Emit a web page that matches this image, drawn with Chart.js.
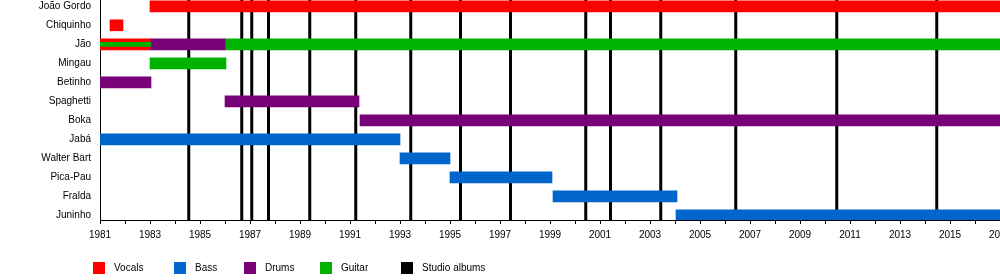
<!DOCTYPE html>
<html>
<head>
<meta charset="utf-8">
<script src="https://cdn.jsdelivr.net/npm/chart.js@4"></script>
<style>
  html, body { margin: 0; padding: 0; background: #fff; }
  #wrap { width: 1000px; height: 280px; }
</style>
</head>
<body>
<div id="wrap"><canvas id="timeline" width="1000" height="280"></canvas></div>
<script>
// Band members, top to bottom
const members = ['João Gordo', 'Chiquinho', 'Jão', 'Mingau', 'Betinho', 'Spaghetti',
                 'Boka', 'Jabá', 'Walter Bart', 'Pica-Pau', 'Fralda', 'Juninho'];

// [member, from, to] in years
const vocals = [
    ['João Gordo', 1983, 2017],
    ['Chiquinho', 1981.4, 1981.92],
    ['Jão', 1981, 1983]
];
const bass = [
    ['Jabá', 1981, 1993],
    ['Walter Bart', 1993, 1995],
    ['Pica-Pau', 1995, 1999.08],
    ['Fralda', 1999.12, 2004.08],
    ['Juninho', 2004.04, 2017]
];
const drums = [
    ['Jão', 1983, 1986],
    ['Betinho', 1981, 1983.04],
    ['Spaghetti', 1986, 1991.36],
    ['Boka', 1991.4, 2017]
];
const guitar = [
    ['Jão', 1986, 2017],
    ['Mingau', 1983, 1986.04]
];
// second role shown as a thin stripe inside the main bar
const guitarStripe = [
    ['Jão', 1981, 1983.04]
];

// Studio album releases
const albumYears = [1984.55, 1986.67, 1987.07, 1987.74, 1989.39, 1991.23, 1993.43, 1995.42,
                    1997.42, 2000.43, 2001.42, 2003.43, 2006.43, 2010.47, 2014.47];

const yearMin = 1981;
const yearMax = 2017;

const colors = {
    vocals: '#ff0000',
    bass: '#0066cc',
    drums: '#780078',
    guitar: '#00b300',
    albums: '#000000'
};

// y limits so rows land where the original puts them
const rowMin = -0.332;
const rowMax = 11.247;

function toBars(spans) {
    return spans.map(([name, from, to]) => ({ y: members.indexOf(name), x: [from, to] }));
}

// vertical lines, broken with null points
const albumPoints = [];
albumYears.forEach(yr => {
    albumPoints.push({ x: yr, y: rowMin }, { x: yr, y: rowMax }, { x: yr, y: null });
});

const font = { family: '"Liberation Sans", Arial, sans-serif', size: 10 };
Chart.defaults.font.family = font.family;
Chart.defaults.font.size = font.size;
Chart.defaults.color = '#000';

const legendItems = [
    ['Vocals', colors.vocals],
    ['Bass', colors.bass],
    ['Drums', colors.drums],
    ['Guitar', colors.guitar],
    ['Studio albums', colors.albums]
];
const legendLeft = [93, 174, 244, 320, 401];

const bottomLegend = {
    id: 'bottomLegend',
    afterDraw(chart) {
        const ctx = chart.ctx;
        ctx.save();
        ctx.font = font.size + 'px ' + font.family;
        ctx.textBaseline = 'middle';
        ctx.textAlign = 'left';
        legendItems.forEach(([text, color], i) => {
            const x = legendLeft[i];
            ctx.fillStyle = color;
            ctx.fillRect(x, 262, 12, 12);
            ctx.fillStyle = '#000';
            ctx.fillText(text, x + 21, 268.5);
        });
        ctx.restore();
    }
};

function barSet(label, spans, color, thickness, order) {
    return {
        type: 'bar',
        label: label,
        data: toBars(spans),
        backgroundColor: color,
        borderWidth: 0,
        barThickness: thickness,
        grouped: false,
        order: order
    };
}

new Chart(document.getElementById('timeline'), {
    type: 'bar',
    data: {
        datasets: [
            barSet('Guitar', guitarStripe, colors.guitar, 4, 0),
            barSet('Vocals', vocals, colors.vocals, 11, 1),
            barSet('Bass', bass, colors.bass, 11, 1),
            barSet('Drums', drums, colors.drums, 11, 1),
            barSet('Guitar', guitar, colors.guitar, 11, 1),
            {
                type: 'line',
                label: 'Studio albums',
                indexAxis: 'x',
                data: albumPoints,
                borderColor: colors.albums,
                borderWidth: 3,
                pointRadius: 0,
                spanGaps: false,
                fill: false,
                order: 2
            }
        ]
    },
    options: {
        indexAxis: 'y',
        responsive: false,
        animation: false,
        events: [],
        layout: { padding: 0 },
        plugins: {
            legend: { display: false },
            tooltip: { enabled: false }
        },
        scales: {
            x: {
                type: 'linear',
                position: 'bottom',
                min: yearMin,
                max: yearMax,
                offset: false,
                border: { color: '#000', width: 1 },
                grid: { drawOnChartArea: false, tickLength: 4, color: '#000', offset: false },
                ticks: {
                    stepSize: 1,
                    autoSkip: false,
                    maxRotation: 0,
                    padding: 5,
                    color: '#000',
                    callback: v => ((v - yearMin) % 2 === 0 ? String(v) : '')
                },
                afterFit: s => { s.height = 60; s.paddingLeft = 0; s.paddingRight = 0; }
            },
            y: {
                type: 'linear',
                reverse: true,
                min: rowMin,
                max: rowMax,
                offset: false,
                border: { color: '#000', width: 1 },
                grid: { display: true, drawOnChartArea: false, drawTicks: false, offset: false },
                ticks: {
                    padding: 9,
                    color: '#000',
                    callback: v => members[v]
                },
                afterBuildTicks: s => { s.ticks = members.map((m, i) => ({ value: i })); },
                afterFit: s => { s.width = 100; s.paddingTop = 0; s.paddingBottom = 0; }
            }
        }
    },
    plugins: [bottomLegend]
});
</script>
</body>
</html>
